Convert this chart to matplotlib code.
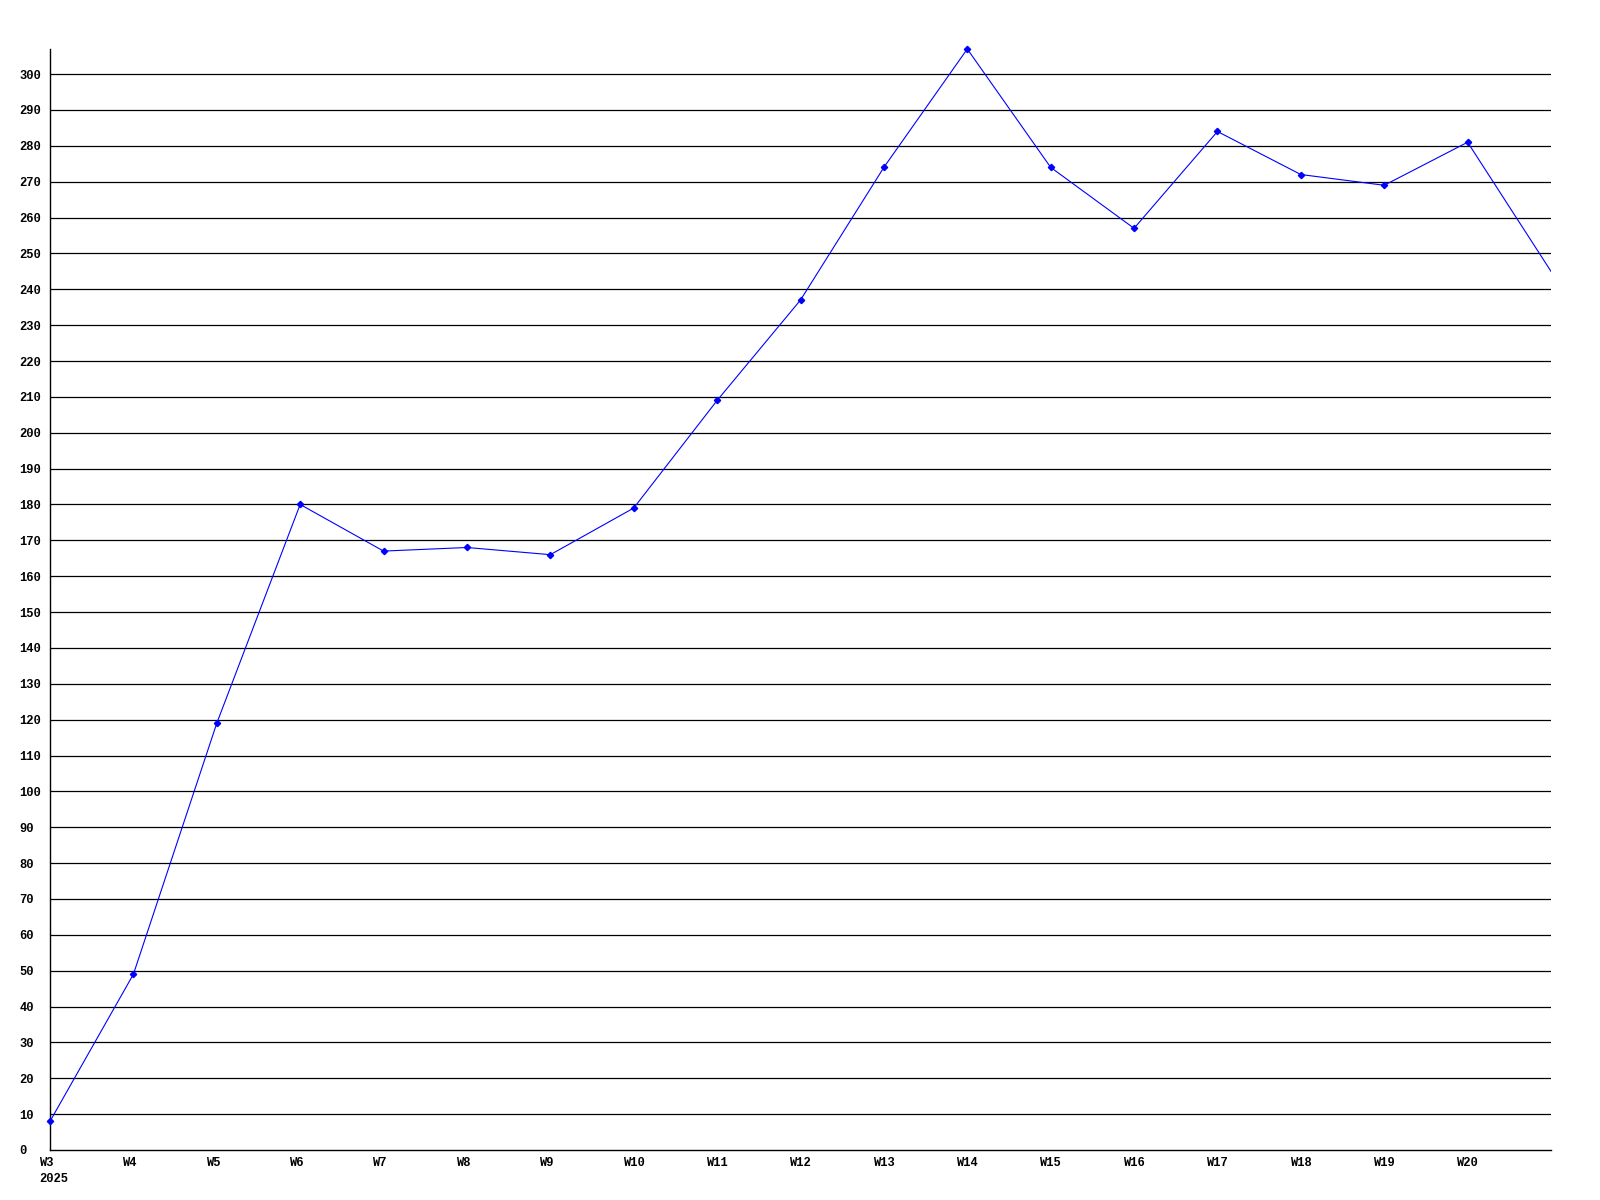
import matplotlib
matplotlib.use("Agg")
import matplotlib.pyplot as plt
from matplotlib.transforms import ScaledTranslation

# Data
weeks = ["W3", "W4", "W5", "W6", "W7", "W8", "W9", "W10", "W11", "W12",
         "W13", "W14", "W15", "W16", "W17", "W18", "W19", "W20", "W21"]
values = [8, 49, 119, 180, 167, 168, 166, 179, 209, 237,
          274, 307, 274, 257, 284, 272, 269, 281, 245]
tick_labels = ["W3\n2025", "W4", "W5", "W6", "W7", "W8", "W9", "W10", "W11",
               "W12", "W13", "W14", "W15", "W16", "W17", "W18", "W19", "W20"]
y_ticks = list(range(0, 310, 10))

font = {"family": "Liberation Mono", "weight": "bold", "size": 8.7}

fig = plt.figure(figsize=(16, 12), dpi=100)
ax = fig.add_axes([50/1600, 1 - 1150/1200, 1501/1600, (1150 - 49)/1200])

x = list(range(len(weeks)))
for yv in y_ticks[1:]:
    ax.axhline(yv, color="black", lw=0.9, zorder=1)

ax.plot(x, values, color="#0000ff", lw=0.8, zorder=3)
ax.plot(x[:-1], values[:-1], ls="none", marker="D", ms=3.2,
        color="#0000ff", zorder=4, clip_on=False)

ax.set_xlim(0, len(weeks) - 1)
ax.set_ylim(0, 307)

for s in ["top", "right"]:
    ax.spines[s].set_visible(False)
for s in ["left", "bottom"]:
    ax.spines[s].set_color("black")
    ax.spines[s].set_linewidth(1.0)

ax.set_yticks(y_ticks)
ax.set_yticklabels([str(v) for v in y_ticks], fontdict=font)
ax.tick_params(axis="y", length=0, pad=22)
for lab in ax.get_yticklabels():
    lab.set_horizontalalignment("left")

ax.set_xticks(x[:-1])
ax.set_xticklabels(tick_labels, fontdict=font)
ax.tick_params(axis="x", length=0, pad=5)
off = ScaledTranslation(-11.2/100, 0, fig.dpi_scale_trans)
for lab in ax.get_xticklabels():
    lab.set_horizontalalignment("left")
    lab.set_multialignment("left")
    lab.set_linespacing(1.5)
    lab.set_transform(lab.get_transform() + off)

fig.savefig("out.png", dpi=100, facecolor="white")
